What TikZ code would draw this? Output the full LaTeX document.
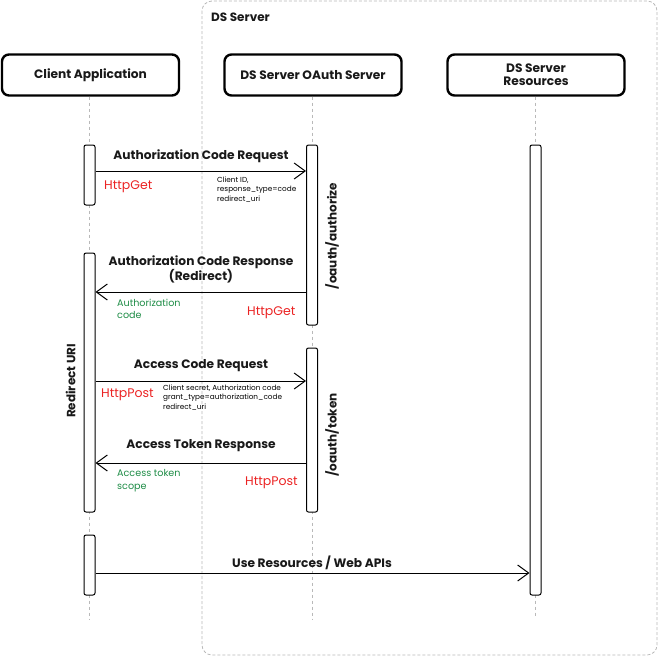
\documentclass[tikz,border=0pt]{standalone}
\usepackage{fontspec}
\setmainfont{Poppins}
\usetikzlibrary{arrows.meta}
\definecolor{grp}{RGB}{185,185,185}
\definecolor{msgred}{RGB}{235,35,35}
\definecolor{msggreen}{RGB}{30,140,70}
\definecolor{ink}{RGB}{25,25,25}
\tikzset{
  actor/.style={draw=black, line width=2.4pt, rounded corners=7pt, minimum width=177pt, minimum height=41pt, align=center, font=\bfseries\fontsize{12.2}{13}\selectfont, text=ink},
  lifeline/.style={draw=grp, dashed, dash pattern=on 3pt off 3pt, line width=0.7pt},
  actbar/.style={draw=black, fill=white, line width=1pt, rounded corners=2pt, minimum width=11pt, inner sep=0pt},
  msg/.style={draw=black, line width=1pt, -{Straight Barb[length=11pt, width=16pt, line width=1pt]}},
  msglabel/.style={font=\bfseries\fontsize{12.2}{13.5}\selectfont, text=ink, align=center},
  redlbl/.style={font=\fontsize{12.5}{14}\selectfont, text=msgred, anchor=west, inner sep=0pt},
  greenlbl/.style={font=\fontsize{9.6}{12.5}\selectfont, text=msggreen, anchor=north west, align=left, inner sep=0pt},
  smalllbl/.style={font=\fontsize{7.3}{9.5}\selectfont, text=black, anchor=north west, align=left, inner sep=0pt},
  rotlbl/.style={font=\bfseries\fontsize{12}{13}\selectfont, text=ink, rotate=90}
}
\begin{document}
\begin{tikzpicture}[x=1pt,y=-1pt]
\useasboundingbox (0,0) rectangle (658,656);
% group
\draw[draw=grp, dash pattern=on 3pt off 2pt, line width=0.8pt, rounded corners=10pt] (202,1) rectangle (657,655);
\node[font=\bfseries\fontsize{12}{13}\selectfont, text=ink, anchor=west, inner sep=0pt] (grplbl) at (211,17) {DS Server};
% actors
\node[actor] (ca) at (90.5,75) {Client Application};
\node[actor] (os) at (313,75) {DS Server OAuth Server};
\node[actor] (rs) at (536,75) {DS Server\\Resources};
% lifeline ends
\coordinate (caend) at (89.5,620);
\coordinate (osend) at (312,620);
\coordinate (rsend) at (535.5,617);
\draw[lifeline] (ca.south -| caend) -- (caend);
\draw[lifeline] (os.south -| osend) -- (osend);
\draw[lifeline] (rs.south -| rsend) -- (rsend);
% activation bars
\node[actbar, minimum height=60pt] (ca1) at (89.5,175) {};
\node[actbar, minimum height=259pt] (ca2) at (89.5,382.5) {};
\node[actbar, minimum height=60pt] (ca3) at (89.5,565) {};
\node[actbar, minimum height=180pt] (os1) at (312,235) {};
\node[actbar, minimum height=164pt] (os2) at (312,430) {};
\node[actbar, minimum height=450pt] (rs1) at (535.5,370) {};
% message rows
\coordinate (y1) at (0,171);
\coordinate (y2) at (0,292);
\coordinate (y3) at (0,381);
\coordinate (y4) at (0,463);
\coordinate (y5) at (0,573);
\draw[msg] (ca1.east |- y1) -- (os1.west |- y1);
\draw[msg] (os1.west |- y2) -- (ca2.east |- y2);
\draw[msg] (ca2.east |- y3) -- (os2.west |- y3);
\draw[msg] (os2.west |- y4) -- (ca2.east |- y4);
\draw[msg] (ca3.east |- y5) -- (rs1.west |- y5);
% message labels
\node[msglabel] (m1) at (201,156.5) {Authorization Code Request};
\node[msglabel] (m2) at (201,269.5) {Authorization Code Response\\(Redirect)};
\node[msglabel] (m3) at (201,365.5) {Access Code Request};
\node[msglabel] (m4) at (201,445.5) {Access Token Response};
\node[msglabel] (m5) at (312,562.5) {Use Resources / Web APIs};
% protocol labels
\node[redlbl] (h1) at (104,186.5) {HttpGet};
\node[redlbl] (h2) at (247,312.5) {HttpGet};
\node[redlbl] (h3) at (101,394.5) {HttpPost};
\node[redlbl] (h4) at (245,482.5) {HttpPost};
% parameters
\node[smalllbl] (p1) at (217,176.5) {Client ID,\\response\_type=code\\redirect\_uri};
\node[smalllbl] (p3) at (163,384.5) {Client secret, Authorization code\\grant\_type=authorization\_code\\redirect\_uri};
\node[greenlbl] (g2) at (117,298.5) {Authorization\\code};
\node[greenlbl] (g4) at (117,469.5) {Access token\\scope};
% rotated labels
\node[rotlbl] (r1) at (70.5,381) {Redirect URI};
\node[rotlbl] (r2) at (332,236) {/oauth/authorize};
\node[rotlbl] (r3) at (332,435) {/oauth/token};
\end{tikzpicture}
\end{document}
